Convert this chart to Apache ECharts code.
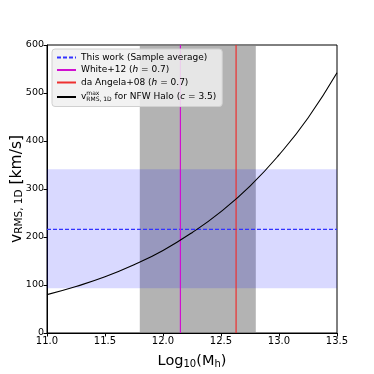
<!DOCTYPE html>
<html>
<head>
<meta charset="utf-8">
<script src="https://cdn.jsdelivr.net/npm/echarts@6/dist/echarts.min.js"></script>
<style>
  html, body { margin: 0; padding: 0; background: #fff; }
  #chart { width: 374px; height: 374px; }
</style>
</head>
<body>
<div id="chart"></div>
<script>
// values
var logMass = [11.0, 11.25, 11.5, 11.75, 12.0, 12.25, 12.5, 12.75, 13.0, 13.25, 13.5]
var vNfw = [80, 97, 117, 142, 172, 209, 253, 306, 371, 448, 542] // km/s
var sampleAvg = 216
var sampleBand = [93, 341]
var massBand = [11.8, 12.8]
var whiteMass = 12.15
var angelaMass = 12.63
var xRange = [11.0, 13.5]
var yRange = [0, 600]

var names = ['This work (Sample average)', 'White+12 (h = 0.7)', 'da Angela+08 (h = 0.7)', 'NFW']

var chart = echarts.init(document.getElementById('chart'))

var font = 'DejaVu Sans'

var option = {
  animation: false,
  grid: {
    left: 47, right: 37, top: 45, bottom: 41,
    outerBoundsMode: 'none',
    show: true, borderColor: '#000', borderWidth: 1, backgroundColor: 'transparent'
  },
  legend: {
    data: names,
    orient: 'vertical',
    left: 52, top: 49,
    itemWidth: 19, itemHeight: 10, itemGap: 3.5,
    padding: [4, 6, 4, 4],
    backgroundColor: 'rgba(240,240,240,0.85)',
    borderColor: '#d0d0d0', borderWidth: 1, borderRadius: 3,
    itemStyle: { opacity: 0 },
    textStyle: {
      fontFamily: font, fontSize: 9, color: '#000',
      rich: {
        i: { fontFamily: font, fontSize: 9, fontStyle: 'italic', color: '#000' },
        sup: { fontFamily: font, fontSize: 6, color: '#000', width: 0.01, padding: [0, 0, 7, 0] },
        sub: { fontFamily: font, fontSize: 6, color: '#000', padding: [5, 0, 0, 0] }
      }
    },
    formatter: function (name) {
      if (name === names[0]) return name
      if (name === names[1]) return 'White+12 ({i|h} = 0.7)'
      if (name === names[2]) return 'da Angela+08 ({i|h} = 0.7)'
      return 'v{sup|max}{sub|RMS, 1D} for NFW Halo ({i|c} = 3.5)'
    }
  },
  xAxis: {
    type: 'value', min: xRange[0], max: xRange[1], interval: 0.5,
    name: '{a|Log}{s|10}{a|(M}{s|h}{a|)}',
    nameLocation: 'middle', nameGap: 20,
    nameTextStyle: {
      rich: {
        a: { fontFamily: font, fontSize: 14.5, color: '#000' },
        s: { fontFamily: font, fontSize: 10, color: '#000', padding: [6, 0, 0, 0] }
      }
    },
    axisLine: { show: true, onZero: false, lineStyle: { color: '#000' } },
    axisTick: { show: true, length: 3.5, lineStyle: { color: '#000' } },
    axisLabel: { fontFamily: font, fontSize: 10, color: '#000', margin: 3,
      formatter: function (v) { return v.toFixed(1) } },
    splitLine: { show: false }
  },
  yAxis: {
    type: 'value', min: yRange[0], max: yRange[1], interval: 100,
    name: '{a|v}{s|RMS, 1D}{a| [km/s]}',
    nameLocation: 'middle', nameGap: 22, nameRotate: 90,
    nameMoveOverlap: false,
    nameTextStyle: {
      rich: {
        a: { fontFamily: font, fontSize: 15.5, color: '#000' },
        s: { fontFamily: font, fontSize: 10.5, color: '#000', padding: [6, 0, 0, 0] }
      }
    },
    axisLine: { show: true, onZero: false, lineStyle: { color: '#000' } },
    axisTick: { show: true, length: 3.5, lineStyle: { color: '#000' } },
    axisLabel: { fontFamily: font, fontSize: 9.5, color: '#000', margin: 3 },
    splitLine: { show: false }
  },
  series: [
    {
      name: 'massBand', type: 'line', data: [], silent: true,
      markArea: {
        silent: true,
        itemStyle: { color: 'rgba(128,128,128,0.6)' },
        data: [[{ xAxis: massBand[0] }, { xAxis: massBand[1] }]]
      }
    },
    {
      name: names[0], type: 'line', symbol: 'none',
      data: [[xRange[0], sampleAvg], [xRange[1], sampleAvg]],
      lineStyle: { color: '#3333ff', width: 1.2, type: [4, 2] },
      itemStyle: { color: '#3333ff' },
      markArea: {
        silent: true,
        itemStyle: { color: 'rgba(0,0,255,0.15)' },
        data: [[{ yAxis: sampleBand[0] }, { yAxis: sampleBand[1] }]]
      }
    },
    {
      name: names[1], type: 'line', symbol: 'none',
      data: [[whiteMass, yRange[0]], [whiteMass, yRange[1]]],
      lineStyle: { color: '#d010d0', width: 1.2 },
      itemStyle: { color: '#d010d0' }
    },
    {
      name: names[2], type: 'line', symbol: 'none',
      data: [[angelaMass, yRange[0]], [angelaMass, yRange[1]]],
      lineStyle: { color: '#ee3030', width: 1.2 },
      itemStyle: { color: '#ee3030' }
    },
    {
      name: names[3], type: 'line', symbol: 'none', smooth: true,
      data: logMass.map(function (m, i) { return [m, vNfw[i]] }),
      lineStyle: { color: '#000', width: 1.1 },
      itemStyle: { color: '#000' }
    }
  ]
}

chart.setOption(option)
</script>
</body>
</html>
